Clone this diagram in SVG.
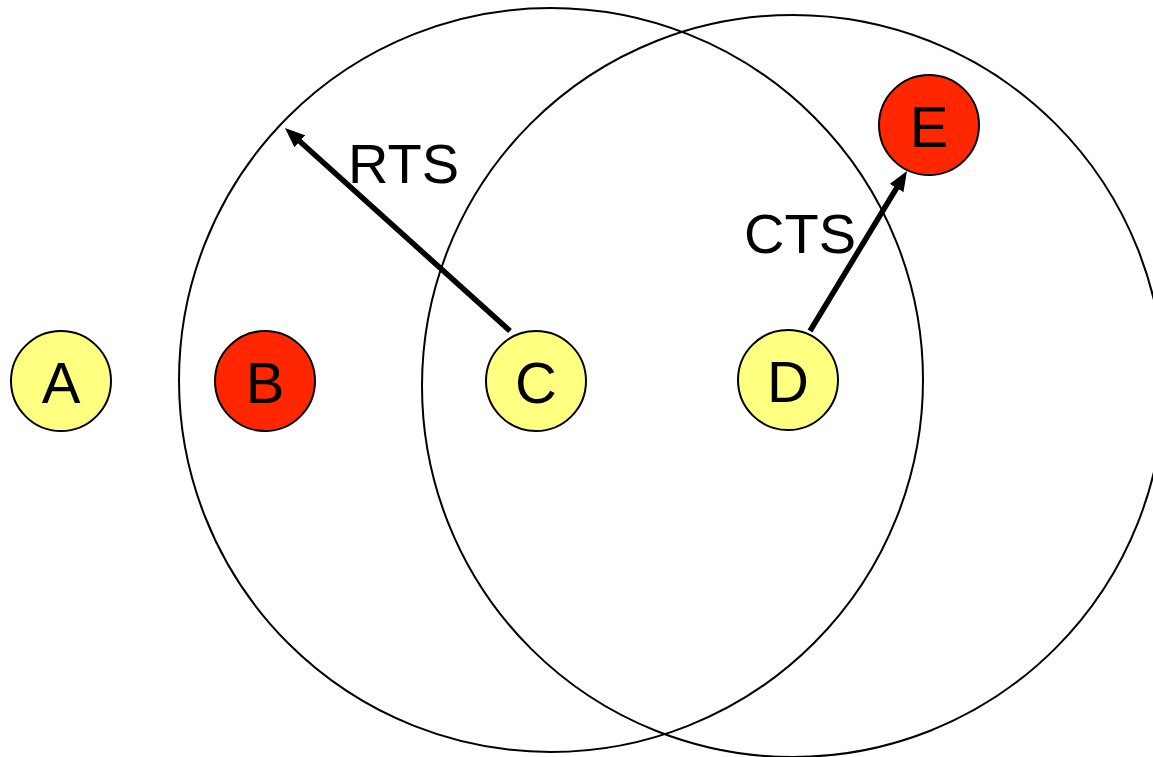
<svg xmlns="http://www.w3.org/2000/svg" width="1153" height="757" viewBox="0 0 1153 757">
<style>
.range{fill:none;stroke:#000;stroke-width:2}
.node circle{stroke:#000;stroke-width:2}
.yellow{fill:#FFFF80}
.red{fill:#FF2600}
text{font-family:"Liberation Sans",Arial,sans-serif;font-size:56px;fill:#000}
.nl{text-anchor:middle;font-size:58px}
.conn line{stroke:#000;stroke-width:5.5}
</style>
<defs>
<marker id="ah" viewBox="0 0 20 16" markerWidth="20" markerHeight="16" markerUnits="userSpaceOnUse" refX="5" refY="8" orient="auto">
<path d="M0,0 L20,8 L0,16 z" fill="#000"/>
</marker>
</defs>
<rect width="1153" height="757" fill="#fff"/>
<g id="ranges">
<circle class="range" cx="551" cy="380" r="372"/>
<circle class="range" cx="793" cy="386" r="371"/>
</g>
<g id="connectors" class="conn">
<line x1="510" y1="331" x2="296.1" y2="138" marker-end="url(#ah)"/>
<line x1="810" y1="331" x2="899.2" y2="183.8" marker-end="url(#ah)"/>
<text x="348" y="183">RTS</text>
<text x="744" y="253">CTS</text>
</g>
<g id="A" class="node"><circle class="yellow" cx="61" cy="381" r="50"/><text class="nl" x="61" y="403">A</text></g>
<g id="B" class="node"><circle class="red" cx="265" cy="381" r="50"/><text class="nl" x="265" y="403">B</text></g>
<g id="C" class="node"><circle class="yellow" cx="536" cy="381" r="50"/><text class="nl" x="536" y="403">C</text></g>
<g id="D" class="node"><circle class="yellow" cx="788" cy="380" r="50"/><text class="nl" x="788" y="402">D</text></g>
<g id="E" class="node"><circle class="red" cx="929" cy="125" r="50"/><text class="nl" x="929" y="147">E</text></g>
</svg>
